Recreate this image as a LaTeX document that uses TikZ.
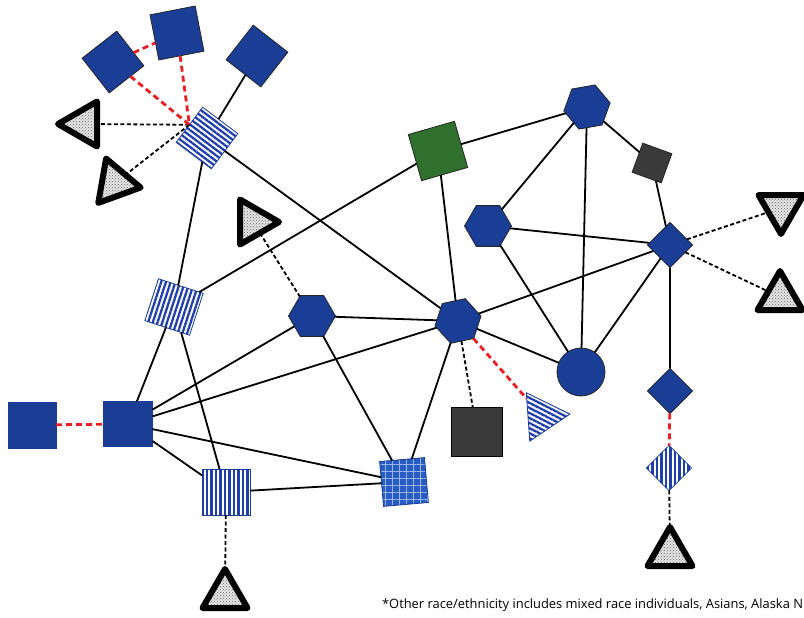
\documentclass[tikz,border=0pt]{standalone}
\usepackage{fontspec}
\setsansfont{Open Sans}
\usepackage{tikz}
\usetikzlibrary{shapes.geometric, patterns, patterns.meta}

\definecolor{nblue}{RGB}{26,61,150}
\definecolor{sblue}{RGB}{32,62,172}
\definecolor{dotblue}{RGB}{38,92,196}
\definecolor{ngreen}{RGB}{48,112,46}
\definecolor{ngray}{RGB}{58,58,58}
\definecolor{kinred}{RGB}{232,30,36}

\tikzset{
    every node/.style={inner sep=0pt, outer sep=0pt},
    bsq/.style={rectangle, draw=black!85, line width=0.8pt, fill=nblue},
    hexa/.style={regular polygon, regular polygon sides=6, minimum size=47pt, draw=black!85, line width=0.8pt, fill=nblue},
    tri/.style={regular polygon, regular polygon sides=3, minimum size=52pt, draw=black, line width=6pt, line join=round, preaction={fill=black!10}, pattern=crosshatch dots, pattern color=black!60},
    striped/.style={draw=nblue, line width=0.8pt, preaction={fill=white}, pattern={Lines[angle=#1, distance=4.5pt, line width=2.3pt]}, pattern color=sblue},
    tie/.style={line width=1.8pt},
    blackdash/.style={line width=1.8pt, dash pattern=on 4pt off 2.5pt},
    reddash/.style={line width=2.8pt, kinred, dash pattern=on 6pt off 4pt},
}

\begin{document}
\begin{tikzpicture}[x=1pt, y=1pt]
    \path[use as bounding box, clip] (0,0) rectangle (804,-618);
    % top left cluster
    \node[bsq, minimum size=44pt, rotate=38] (sqA) at (113,-62) {};
    \node[bsq, minimum size=46pt, rotate=11] (sqB) at (177,-33) {};
    \node[bsq, minimum size=44pt, rotate=52] (sqC) at (257,-56) {};
    \node[rectangle, striped=-37, minimum size=44pt, rotate=53] (hz1) at (207,-138) {};
    \node[tri, rotate=90] (triL1) at (84,-124) {};
    \node[tri, rotate=20] (triL2) at (115,-183) {};
    % upper middle and right
    \node[bsq, fill=ngreen, minimum size=48pt, rotate=16] (grn) at (438,-151) {};
    \node[hexa, rotate=10] (hexT) at (587,-107) {};
    \node[bsq, fill=ngray, minimum size=31pt, rotate=-20] (dsq1) at (652,-163) {};
    \node[hexa] (hex2) at (488,-226) {};
    \node[bsq, minimum size=32pt, rotate=45] (dia1) at (670,-245) {};
    \node[tri, rotate=180] (triR1) at (781,-208) {};
    \node[tri] (triR2) at (780,-297) {};
    % centre
    \node[tri, rotate=-90] (triM) at (253,-222) {};
    \node[rectangle, striped=72, minimum width=47pt, minimum height=44pt, rotate=-18] (vs1) at (174,-307) {};
    \node[hexa] (hex3) at (312,-316) {};
    \node[hexa, rotate=12] (hex4) at (458,-321) {};
    \node[circle, draw=black!85, line width=0.8pt, fill=nblue, minimum size=48pt] (circ) at (581,-372) {};
    % lower part
    \node[bsq, draw=nblue, minimum width=48pt, minimum height=46pt] (sqL) at (32,-425) {};
    \node[bsq, draw=nblue, minimum width=49pt, minimum height=45pt] (sqM) at (128,-424) {};
    \node[bsq, fill=ngray, draw=black, minimum width=51pt, minimum height=49pt] (dsq2) at (477,-432) {};
    \node[regular polygon, regular polygon sides=3, minimum size=56pt, striped=-27, rotate=-86] (triS) at (542,-416) {};
    \node[bsq, minimum size=32pt, rotate=45] (dia2) at (670,-391) {};
    \node[rectangle, striped=90, minimum size=32pt, rotate=45] (dia3) at (669,-468) {};
    \node[tri] (triB3) at (670,-553) {};
    \node[rectangle, striped=90, minimum width=48pt, minimum height=46pt] (vs2) at (226,-492) {};
    \node[rectangle, draw=nblue, line width=0.8pt, preaction={fill=dotblue}, pattern={Hatch[angle=0, distance=7pt, line width=0.5pt]}, pattern color=dotblue!45!white, minimum size=45pt, rotate=5] (dsq) at (404,-482) {};
    \node[tri] (triB1) at (225,-595) {};

    \draw[tie] (sqC) -- (hz1);
    \draw[tie] (hz1) -- (vs1);
    \draw[tie] (hz1) -- (hex4);
    \draw[tie] (grn) -- (vs1);
    \draw[tie] (grn) -- (hexT);
    \draw[tie] (grn) -- (hex4);
    \draw[tie] (hexT) -- (hex2);
    \draw[tie] (hexT) -- (circ);
    \draw[tie] (hexT) -- (dsq1) -- (dia1);
    \draw[tie] (hex2) -- (dia1);
    \draw[tie] (hex2) -- (circ);
    \draw[tie] (dia1) -- (hex4);
    \draw[tie] (dia1) -- (circ);
    \draw[tie] (dia1) -- (dia2);
    \draw[tie] (hex4) -- (circ);
    \draw[tie] (hex4) -- (hex3);
    \draw[tie] (hex4) -- (sqM);
    \draw[tie] (hex4) -- (dsq);
    \draw[tie] (hex3) -- (sqM);
    \draw[tie] (hex3) -- (dsq);
    \draw[tie] (vs1) -- (sqM);
    \draw[tie] (vs1) -- (vs2);
    \draw[tie] (sqM) -- (vs2);
    \draw[tie] (sqM) -- (dsq);
    \draw[tie] (vs2) -- (dsq);

    \draw[blackdash] (hz1.north) -- (triL1);
    \draw[blackdash] (hz1.north) -- (triL2);
    \draw[blackdash] (triM) -- (hex3);
    \draw[blackdash] (dia1) -- (triR1);
    \draw[blackdash] (dia1) -- (triR2);
    \draw[blackdash] (hex4) -- (dsq2);
    \draw[blackdash] (vs2) -- (triB1);
    \draw[blackdash] (dia3) -- (triB3);

    \draw[reddash] (sqA) -- (sqB);
    \draw[reddash] (sqA) -- (hz1.north);
    \draw[reddash] (sqB) -- (hz1.north);
    \draw[reddash] (sqL) -- (sqM);
    \draw[reddash] (hex4) -- (triS);
    \draw[reddash] (dia2) -- (dia3);

    \node[anchor=base east, font=\sffamily\fontsize{12.9}{15}\selectfont] (note) at (803,-608) {*Other race/ethnicity includes mixed race individuals, Asians, Alaska N};
\end{tikzpicture}
\end{document}
